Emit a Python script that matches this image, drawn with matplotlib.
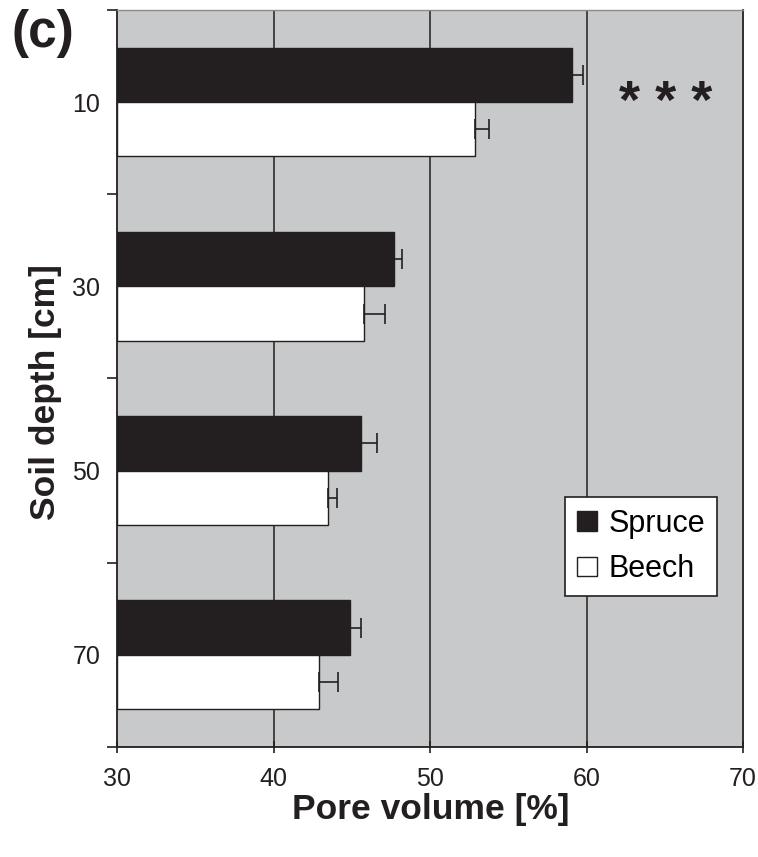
import matplotlib
matplotlib.use("Agg")
import matplotlib.pyplot as plt
from matplotlib.patches import Patch
import numpy as np

plt.rcParams['font.family'] = ['Liberation Sans', 'DejaVu Sans']

depths = [10, 30, 50, 70]
spruce = [59.1, 47.7, 45.6, 44.9]
spruce_err = [0.7, 0.5, 1.0, 0.7]
beech = [52.85, 45.8, 43.5, 42.9]
beech_err = [0.95, 1.3, 0.55, 1.2]
xticks = [30, 40, 50, 60, 70]
labels = ["Spruce", "Beech"]

INK = '#231f20'
fig = plt.figure(figsize=(7.58, 8.57), dpi=100)
ax = fig.add_axes([0.1544, 0.1284, 0.8258, 0.8599])
ax.set_facecolor('#c8c9cb')

h = 5.9
d = np.array(depths, dtype=float)
err_kw = dict(ecolor=INK, elinewidth=1.2, capsize=7, capthick=1.2)
ax.barh(d - h / 2, np.array(spruce) - 30, left=30, height=h, color=INK,
        edgecolor=INK, linewidth=1.0, zorder=3,
        xerr=[[0] * 4, spruce_err], error_kw=err_kw)
ax.barh(d + h / 2, np.array(beech) - 30, left=30, height=h, color='white',
        edgecolor=INK, linewidth=1.0, zorder=3,
        xerr=[[0] * 4, beech_err], error_kw=err_kw)

ax.set_xlim(30, 70)
ax.set_ylim(80, 0)
ax.set_xticks(xticks)
ax.set_xticklabels([str(t) for t in xticks])
ax.set_yticks(depths)
ax.set_yticks([0, 20, 40, 60, 80], minor=True)
ax.tick_params(axis='y', which='major', length=0, labelsize=18, pad=12, colors=INK)
ax.tick_params(axis='y', which='minor', length=7, width=1.2, direction='out', color=INK)
ax.tick_params(axis='x', which='major', length=9, width=1.2, direction='inout',
               labelsize=18, pad=10, colors=INK)

for g in [40, 50, 60]:
    ax.axvline(g, color=INK, linewidth=1.1, zorder=1)

for s in ['left', 'bottom', 'right']:
    ax.spines[s].set_color(INK)
    ax.spines[s].set_linewidth(1.3)
ax.spines['top'].set_color('#8a8a8a')
ax.spines['top'].set_linewidth(1.0)

ax.set_xlabel("Pore volume [%]", fontsize=25.5, fontweight='bold', color=INK)
ax.set_ylabel("Soil depth [cm]", fontsize=25.5, fontweight='bold', color=INK)
ax.xaxis.set_label_coords(0.5016, -0.062)
ax.yaxis.set_label_coords(-0.088, 0.482)

ax.text(65.08, 11.7, "* * *", fontsize=39, fontweight='bold',
        ha='center', va='baseline', color=INK)
fig.text(0.0158, 0.99, "(c)", fontsize=37, fontweight='bold', ha='left', va='top', color=INK)

handles = [Patch(facecolor=INK, edgecolor=INK, label=labels[0]),
           Patch(facecolor='white', edgecolor=INK, label=labels[1])]
leg = ax.legend(handles=handles, loc='upper left', bbox_to_anchor=(0.7157, 0.339),
                fontsize=22, frameon=True, fancybox=False, framealpha=1,
                edgecolor=INK, handlelength=0.65, handleheight=0.6,
                handletextpad=0.4, borderpad=0.38, labelspacing=0.5,
                borderaxespad=0)
leg.get_frame().set_linewidth(1.2)

fig.savefig("out.png", dpi=100)
